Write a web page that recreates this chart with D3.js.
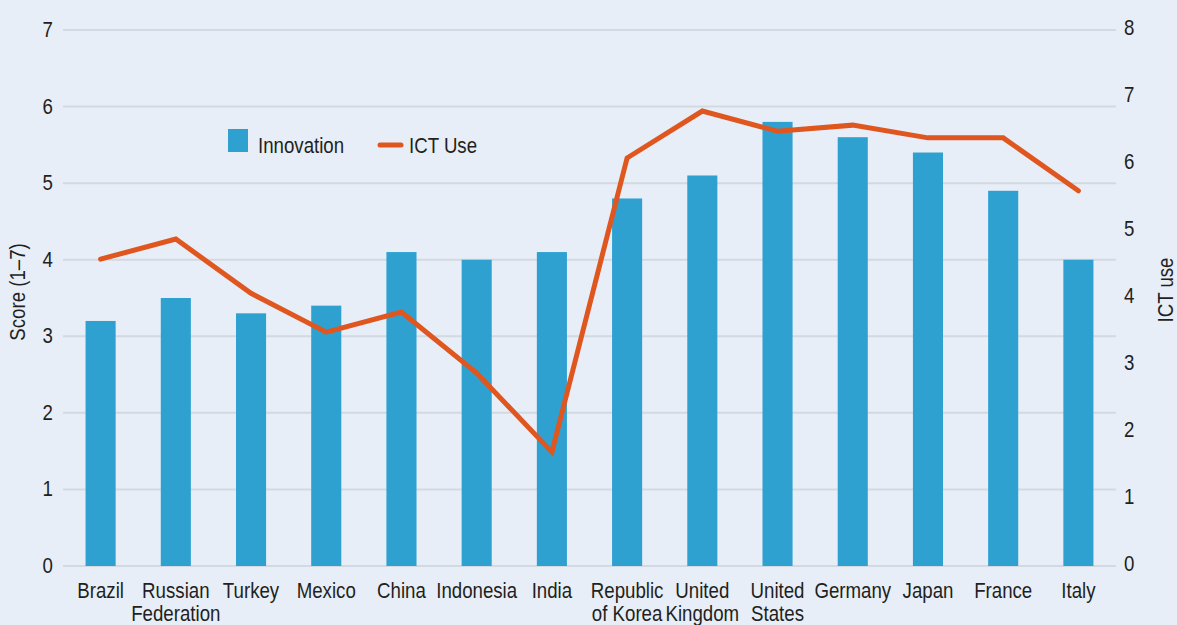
<!DOCTYPE html>
<html><head><meta charset="utf-8">
<script src="https://cdn.jsdelivr.net/npm/d3@7"></script>
<style>
html,body{margin:0;padding:0;background:#e7eef8;}
svg{display:block;}
text{font-family:"Liberation Sans",Arial,sans-serif;fill:#231f20;}
</style></head><body>
<svg id="c" width="1177" height="625"></svg>
<script>
const categories = ["Brazil","Russian\nFederation","Turkey","Mexico","China","Indonesia","India","Republic\nof Korea","United\nKingdom","United\nStates","Germany","Japan","France","Italy"];
const innovation = [3.2,3.5,3.3,3.4,4.1,4.0,4.1,4.8,5.1,5.8,5.6,5.4,4.9,4.0];
const ictUse = [4.58,4.88,4.07,3.49,3.79,2.88,1.70,6.09,6.79,6.49,6.58,6.39,6.39,5.60];
const leftTicks = [0,1,2,3,4,5,6,7];
const rightTicks = [0,1,2,3,4,5,6,7,8];

const svg = d3.select("#c");
const W=1177,H=625;
svg.append("rect").attr("width",W).attr("height",H).attr("fill","#e7eef8");
const x0=63,x1=1116,yTop=30,yBot=566;
const x = d3.scaleBand().domain(d3.range(categories.length)).range([x0,x1]).paddingInner(0.6).paddingOuter(0.3);
const yL = d3.scaleLinear().domain([0,7]).range([yBot,yTop]);
const yR = d3.scaleLinear().domain([0,8]).range([yBot,yTop]);
const fs=22.5, SX=0.83;

function label(parent, tx, ty, str, anchor, rot){
  const g = parent.append("g").attr("transform",`translate(${tx},${ty})` + (rot?` rotate(${rot})`:"") + ` scale(${SX},1)`);
  const t = g.append("text").attr("text-anchor",anchor||"start").attr("font-size",fs);
  const parts = String(str).split("\n");
  parts.forEach((s,k)=>t.append("tspan").attr("x",0).attr("dy",k===0?0:23).text(s));
  return t;
}

// gridlines
svg.append("g").selectAll("line").data(leftTicks).join("line")
  .attr("x1",x0).attr("x2",x1).attr("y1",d=>yL(d)).attr("y2",d=>yL(d))
  .attr("stroke","#d3d9e0").attr("stroke-width",2);

const gL = svg.append("g");
leftTicks.forEach(d=>label(gL,53,yL(d)+7,d,"end"));
const gR = svg.append("g");
rightTicks.forEach(d=>label(gR,1124,yR(d)+5,d,"start"));

// bars
svg.append("g").selectAll("rect").data(innovation).join("rect")
  .attr("x",(d,i)=>x(i)).attr("width",x.bandwidth())
  .attr("y",d=>yL(d)).attr("height",d=>yBot-yL(d))
  .attr("fill","#2ea1d1");

// line
const line = d3.line().x((d,i)=>x(i)+x.bandwidth()/2).y(d=>yR(d));
svg.append("path").datum(ictUse).attr("d",line).attr("fill","none")
  .attr("stroke","#e0561f").attr("stroke-width",5).attr("stroke-linejoin","miter").attr("stroke-linecap","round");

// x labels
const gX = svg.append("g");
categories.forEach((c,i)=>label(gX,x(i)+x.bandwidth()/2,598,c,"middle"));

// axis titles
label(svg,25,292,"Score (1\u20137)","middle",-90);
label(svg,1173,290,"ICT use","middle",-90);

// legend
svg.append("rect").attr("x",228).attr("y",129).attr("width",20).attr("height",23).attr("fill","#2ea1d1");
label(svg,258,153,"Innovation","start");
svg.append("line").attr("x1",380).attr("x2",401).attr("y1",145).attr("y2",145).attr("stroke","#e0561f").attr("stroke-width",5).attr("stroke-linecap","round");
label(svg,409,153,"ICT Use","start");
</script>
</body></html>
